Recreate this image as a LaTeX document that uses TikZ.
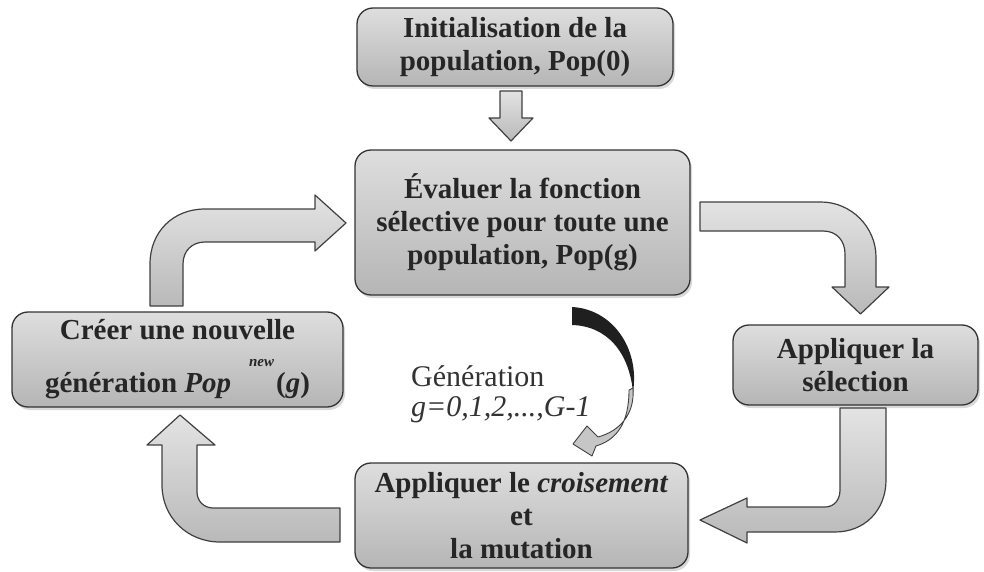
\documentclass[tikz,border=0pt]{standalone}
\usepackage{fontspec}
\setmainfont{Liberation Serif}
\usetikzlibrary{shadows}
\begin{document}
\begin{tikzpicture}[x=1pt,y=-1pt,
  box/.style={draw=black!80, line width=1.3pt, rounded corners=16pt,
    top color=gray!26, bottom color=gray!58, align=center, inner sep=0pt,
    font=\fontsize{29}{33}\selectfont\bfseries, text=black!85,
    drop shadow={opacity=0.3, shadow xshift=2pt, shadow yshift=-3pt}},
  blk/.style={draw=black!75, line width=1.2pt, top color=gray!22, bottom color=gray!55, line join=round},
  gentext/.style={align=left, anchor=west, inner sep=0pt, text=black!80,
    font=\fontsize{30}{30}\selectfont}]
\useasboundingbox (0,0) rectangle (984,572);

% boxes
\node[box, minimum width=316pt, minimum height=78pt] (init) at (515,47)
  {Initialisation de la\\population, Pop(0)};
\node[box, minimum width=335pt, minimum height=145pt] (eval) at (522.5,222.5)
  {Évaluer la fonction\\sélective pour toute une\\population, Pop(g)};
\node[box, minimum width=331pt, minimum height=95pt] (creer) at (177.5,359.5)
  {Créer une nouvelle\\[20pt]génération \textit{Pop}\hspace{18pt}\rlap{\smash{\raisebox{26pt}{\fontsize{15}{15}\selectfont\bfseries\itshape new}}}\hspace{27pt}(\textit{g})};
\node[box, minimum width=245pt, minimum height=80pt] (sel) at (855.5,365)
  {Appliquer la\\sélection};
\node[box, minimum width=333pt, minimum height=105pt] (crois) at (521.5,515.5)
  {Appliquer le \textit{croisement}\\et\\la mutation};

% label
\node[gentext] (gen) at (411,394) {Génération\\\textit{g=0,1,2,...,G-1}};

% down arrow init -> eval
\path[blk] (500,91) -- (522,91) -- (522,118) -- (533,118) -- (511,141) -- (489,118) -- (500,118) -- cycle;

% top-left bent arrow creer -> eval
\path[blk] (150,306) -- (150,264) .. controls (150,232) and (173,209) .. (205,209)
  -- (315,209) -- (315,195) -- (346,223) -- (315,251) -- (315,242) -- (205,242)
  .. controls (192,242) and (183,251) .. (183,264) -- (183,306) -- cycle;

% top-right bent arrow eval -> sel
\path[blk] (700,202) -- (821,202) .. controls (851,202) and (876,227) .. (876,257)
  -- (876,287) -- (889,287) -- (860.5,314) -- (832,287) -- (845,287) -- (845,254)
  .. controls (845,241) and (837,231) .. (823,231) -- (700,231) -- cycle;

% bottom-right bent arrow sel -> crois
\path[blk] (840,408) -- (886,408) -- (886,480) .. controls (886,510) and (865,532) .. (835,532)
  -- (747,532) -- (747,543) -- (700,520) -- (747,498) -- (747,507) -- (825,507)
  .. controls (834,507) and (840,500) .. (840,490) -- cycle;

% bottom-left bent arrow crois -> creer
\path[blk] (340,508) -- (213,508) .. controls (204,508) and (197,501) .. (197,492)
  -- (197,445) -- (215,445) -- (180,415) -- (147,445) -- (162,445) -- (162,485)
  .. controls (162,517) and (187,542) .. (220,542) -- (340,542) -- cycle;

% curved generation arrow
\fill[black!88] (572,307) .. controls (612,309) and (640,348) .. (633,392)
  .. controls (629,352) and (607,326) .. (572,325) -- cycle;
\path[draw=black!75, line width=0.9pt, fill=gray!45, line join=round]
  (633,388) .. controls (635,414) and (620,431) .. (598,437) -- (587,426) -- (573,444)
  -- (592,456) -- (596,446) .. controls (616,440) and (629,424) .. (629,390) -- cycle;
\end{tikzpicture}
\end{document}
